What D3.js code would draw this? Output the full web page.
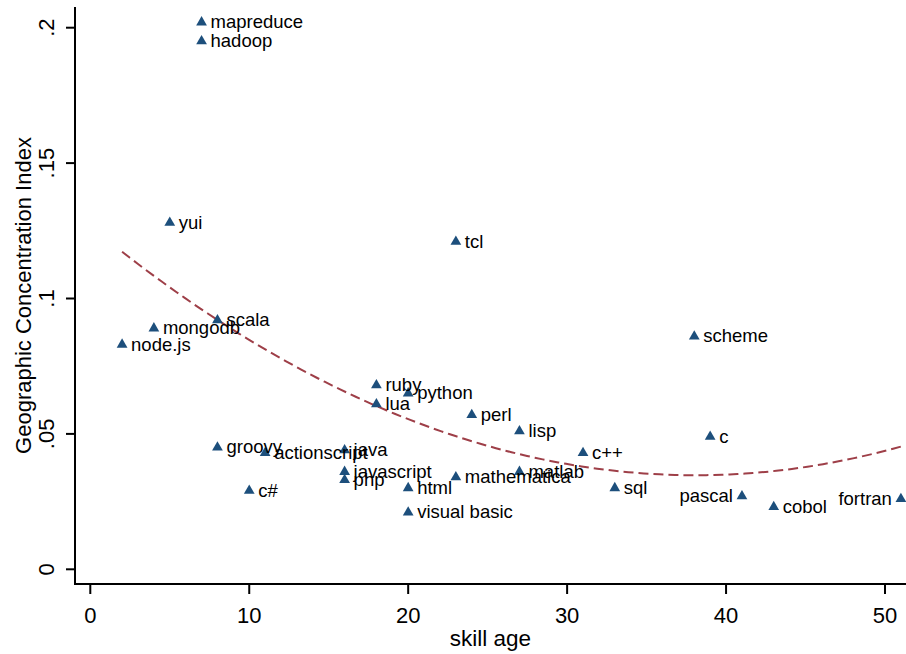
<!DOCTYPE html>
<html>
<head>
<meta charset="utf-8">
<script src="https://cdn.jsdelivr.net/npm/d3@7"></script>
<style>
  html,body{margin:0;padding:0;background:#fff;}
  svg{display:block;font-family:"Liberation Sans",Arial,sans-serif;}
</style>
</head>
<body>
<svg id="chart" width="906" height="654"></svg>
<script>
/* skill age vs geographic concentration index, with quadratic fit */
const skills = ["mapreduce","hadoop","yui","tcl","scala","mongodb","node.js","scheme",
  "ruby","python","lua","perl","lisp","c","groovy","java","actionscript","c++",
  "javascript","matlab","php","mathematica","html","c#","sql","pascal","fortran",
  "cobol","visual basic"];
const ages = [7,7,5,23,8,4,2,38,18,20,18,24,27,39,8,16,11,31,16,27,16,23,20,10,33,41,51,43,20];
const gci  = [0.202,0.195,0.128,0.121,0.092,0.089,0.083,0.086,0.068,0.065,0.061,0.057,0.051,
  0.049,0.045,0.044,0.043,0.043,0.036,0.036,0.033,0.034,0.030,0.029,0.030,0.027,0.026,0.023,0.021];
const leftLabels = ["pascal","fortran"];
const xTicks = [0,10,20,30,40,50];
const yTicks = [0,0.05,0.1,0.15,0.2];
const yTickText = ["0",".05",".1",".15",".2"];

const W = 906, H = 654;
const svg = d3.select("#chart");
const x = d3.scaleLinear().domain([0,50]).range([90.3,885]);
const y = d3.scaleLinear().domain([0,0.2]).range([569.3,27.7]);
const plotL = 75, plotB = 584, plotT = 7, plotR = W;

/* quadratic least squares fit, like Stata's qfit */
function qfit(xs, ys){
  let s = [0,0,0,0,0], t = [0,0,0];
  xs.forEach((xi,i)=>{
    for(let k=0;k<5;k++) s[k]+=Math.pow(xi,k);
    for(let k=0;k<3;k++) t[k]+=ys[i]*Math.pow(xi,k);
  });
  const A = [[s[0],s[1],s[2],t[0]],[s[1],s[2],s[3],t[1]],[s[2],s[3],s[4],t[2]]];
  for(let c=0;c<3;c++){
    for(let r=c+1;r<3;r++){
      const f = A[r][c]/A[c][c];
      for(let k=c;k<4;k++) A[r][k]-=f*A[c][k];
    }
  }
  const b=[0,0,0];
  for(let r=2;r>=0;r--){
    let v=A[r][3];
    for(let k=r+1;k<3;k++) v-=A[r][k]*b[k];
    b[r]=v/A[r][r];
  }
  return b;
}
const coef = qfit(ages, gci);
const [xmin,xmax] = d3.extent(ages);
const fitPts = d3.range(0,101).map(i=>{
  const xv = xmin+(xmax-xmin)*i/100;
  return [xv, coef[0]+coef[1]*xv+coef[2]*xv*xv];
});

/* fit line */
svg.append("path")
  .datum(fitPts)
  .attr("fill","none")
  .attr("stroke","#9e3f48")
  .attr("stroke-width",2)
  .attr("stroke-dasharray","10,5")
  .attr("d", d3.line().x(d=>x(d[0])).y(d=>y(d[1])));

/* points */
const pts = skills.map((s,i)=>({name:s, a:ages[i], g:gci[i]}));
const tri = d3.symbol().type(d3.symbolTriangle).size(50);
const g = svg.append("g");
g.selectAll("path.pt").data(pts).join("path")
  .attr("class","pt")
  .attr("d", tri)
  .attr("transform", d=>`translate(${x(d.a)},${y(d.g)})`)
  .attr("fill","#1d4f7c");
g.selectAll("text.lb").data(pts).join("text")
  .attr("class","lb")
  .attr("x", d=> leftLabels.includes(d.name) ? x(d.a)-9 : x(d.a)+9)
  .attr("y", d=> y(d.g)+6)
  .attr("text-anchor", d=> leftLabels.includes(d.name) ? "end" : "start")
  .attr("font-size",18.5)
  .attr("fill","#000")
  .text(d=>d.name);

/* axes */
const axisC = "#000";
svg.append("line").attr("x1",plotL).attr("x2",plotL).attr("y1",plotT).attr("y2",plotB+1)
  .attr("stroke",axisC).attr("stroke-width",2);
svg.append("line").attr("x1",plotL-1).attr("x2",plotR).attr("y1",plotB).attr("y2",plotB)
  .attr("stroke",axisC).attr("stroke-width",2);

svg.selectAll("line.xt").data(xTicks).join("line")
  .attr("x1",d=>x(d)).attr("x2",d=>x(d)).attr("y1",plotB).attr("y2",plotB+10)
  .attr("stroke",axisC).attr("stroke-width",2);
svg.selectAll("text.xt").data(xTicks).join("text")
  .attr("x",d=>x(d)).attr("y",623)
  .attr("text-anchor","middle").attr("font-size",22).attr("fill","#000")
  .text(d=>d);

svg.selectAll("line.yt").data(yTicks).join("line")
  .attr("x1",plotL-9).attr("x2",plotL).attr("y1",d=>y(d)).attr("y2",d=>y(d))
  .attr("stroke",axisC).attr("stroke-width",2);
svg.selectAll("text.yt").data(yTicks).join("text")
  .attr("transform",(d)=>`translate(54,${y(d)}) rotate(-90)`)
  .attr("text-anchor","middle").attr("font-size",22).attr("fill","#000")
  .text((d,i)=>yTickText[i]);

svg.append("text")
  .attr("x",(plotL+plotR)/2).attr("y",646)
  .attr("text-anchor","middle").attr("font-size",22.5).attr("fill","#000")
  .text("skill age");
svg.append("text")
  .attr("transform",`translate(31,${(plotT+plotB)/2}) rotate(-90)`)
  .attr("text-anchor","middle").attr("font-size",22).attr("fill","#000")
  .text("Geographic Concentration Index");
</script>
</body>
</html>
